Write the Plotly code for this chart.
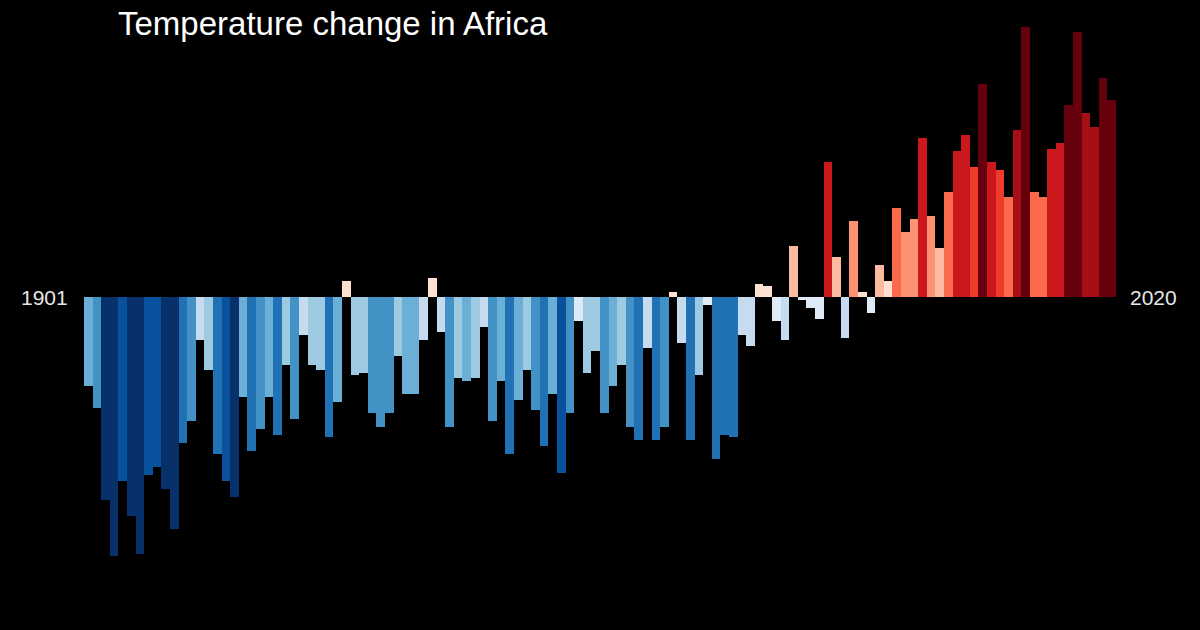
import plotly.graph_objects as go

years = list(range(1901, 2021))
anomaly = [
    -0.33, -0.41, -0.75, -0.96, -0.68, -0.81, -0.95, -0.66, -0.63, -0.71,
    -0.86, -0.54, -0.46, -0.16, -0.27, -0.58, -0.68, -0.74, -0.37, -0.57,
    -0.49, -0.37, -0.51, -0.25, -0.45, -0.14, -0.25, -0.27, -0.52, -0.39,
    0.06, -0.29, -0.28, -0.43, -0.48, -0.43, -0.22, -0.36, -0.36, -0.16,
    0.07, -0.13, -0.48, -0.30, -0.31, -0.30, -0.11, -0.46, -0.31, -0.58,
    -0.38, -0.27, -0.42, -0.55, -0.36, -0.65, -0.43, -0.09, -0.28, -0.20,
    -0.43, -0.33, -0.25, -0.48, -0.53, -0.19, -0.53, -0.48, 0.02, -0.17,
    -0.53, -0.29, -0.03, -0.60, -0.51, -0.52, -0.14, -0.18, 0.05, 0.04,
    -0.09, -0.16, 0.19, -0.01, -0.04, -0.08, 0.50, 0.15, -0.15, 0.28,
    0.02, -0.06, 0.12, 0.06, 0.33, 0.24, 0.29, 0.59, 0.30, 0.18,
    0.39, 0.54, 0.60, 0.48, 0.79, 0.50, 0.47, 0.37, 0.62, 1.00,
    0.39, 0.37, 0.55, 0.57, 0.71, 0.98, 0.68, 0.63, 0.81, 0.73,
]
title_text = "Temperature change in Africa"
start_label = "1901"
end_label = "2020"

stripe_colors = [
    "#08306b", "#08519c", "#2171b5", "#4292c6", "#6baed6", "#9ecae1", "#c6dbef", "#deebf7",
    "#fee0d2", "#fcbba1", "#fc9272", "#fb6a4a", "#ef3b2c", "#cb181d", "#a50f15", "#67000d",
]
n = len(stripe_colors)
colorscale = []
for k, c in enumerate(stripe_colors):
    colorscale.append([k / n, c])
    colorscale.append([(k + 1) / n, c])

fig = go.Figure(go.Bar(
    x=years, y=anomaly,
    marker=dict(color=anomaly, colorscale=colorscale, cmin=-0.8, cmax=0.8,
                line=dict(width=0)),
    hoverinfo="x+y",
))

W, H = 1200, 630
ml, mr, mt, mb = 84, 84, 20, 20
ppu = 270.0
y0px = 297
ytop = (y0px - mt) / ppu
ybot = -((H - mb) - y0px) / ppu

def py(pix):
    return ((H - mb) - pix) / (H - mt - mb)

fig.update_layout(
    width=W, height=H,
    margin=dict(l=ml, r=mr, t=mt, b=mb),
    paper_bgcolor="black", plot_bgcolor="black",
    bargap=0, showlegend=False,
    xaxis=dict(range=[1900.5, 2020.5], visible=False, fixedrange=True),
    yaxis=dict(range=[ybot, ytop], visible=False, fixedrange=True),
    font=dict(family="Liberation Sans, Arial, sans-serif", color="white"),
    annotations=[
        dict(text=title_text, xref="paper", yref="paper", x=0, xshift=32,
             y=py(23), xanchor="left", yanchor="middle", showarrow=False,
             font=dict(size=33, color="white")),
        dict(text=start_label, xref="paper", yref="y", x=0, xshift=-14, y=0,
             xanchor="right", yanchor="middle", showarrow=False,
             font=dict(size=21, color="#e6e6e6")),
        dict(text=end_label, xref="paper", yref="y", x=1, xshift=12, y=0,
             xanchor="left", yanchor="middle", showarrow=False,
             font=dict(size=21, color="#e6e6e6")),
    ],
)

fig.write_html("out.html")
